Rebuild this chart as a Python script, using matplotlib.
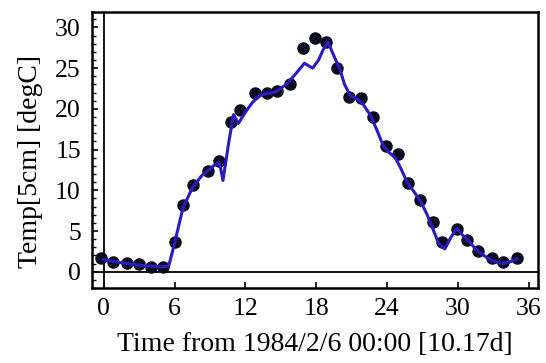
import numpy as np
import matplotlib
matplotlib.use("Agg")
import matplotlib.pyplot as plt
from matplotlib.ticker import MultipleLocator

# soil temperature at 5 cm, measured points
t_obs = [-0.2, 0.8, 2.0, 3.0, 4.0, 5.0, 6.0, 6.7, 7.6, 8.8, 9.8, 10.8, 11.5,
         12.8, 13.8, 14.7, 15.8, 16.9, 17.9, 18.8, 19.8, 20.8, 21.8, 22.8,
         23.9, 24.9, 25.8, 26.8, 27.9, 28.7, 29.9, 30.8, 31.7, 32.9, 33.8, 35.0]
T_obs = [1.7, 1.2, 1.1, 0.9, 0.6, 0.6, 3.7, 8.2, 10.6, 12.4, 13.6, 18.4, 19.9,
         22.0, 21.9, 22.2, 23.1, 27.5, 28.7, 28.2, 25.0, 21.5, 21.3, 19.0,
         15.4, 14.4, 10.9, 8.8, 6.1, 3.7, 5.2, 3.9, 2.5, 1.7, 1.2, 1.7]

# model run
t_mod = [0.0, 1.0, 2.0, 3.0, 4.0, 5.0, 5.5, 6.0, 6.7, 7.5, 8.3, 8.8, 9.3, 9.8,
         10.1, 10.6, 11.0, 11.4, 12.0, 12.6, 13.2, 13.8, 14.4, 15.0, 15.6,
         16.2, 17.0, 17.7, 18.2, 18.6, 19.0, 19.5, 20.0, 20.4, 20.9, 21.5,
         22.0, 22.6, 23.2, 23.7, 24.2, 24.7, 25.2, 25.7, 26.3, 26.9, 27.4,
         27.9, 28.4, 28.9, 29.4, 29.9, 30.4, 30.9, 31.5, 32.0, 32.6, 33.2,
         33.8, 34.4, 35.0]
T_mod = [1.5, 1.2, 1.0, 0.8, 0.7, 0.6, 0.7, 3.5, 7.8, 10.3, 11.8, 12.4, 13.0,
         13.4, 11.2, 16.0, 19.3, 18.2, 19.6, 20.8, 21.6, 21.9, 22.0, 22.5,
         23.2, 24.2, 25.6, 25.0, 26.0, 27.3, 28.2, 26.5, 24.9, 23.0, 21.6,
         21.2, 20.5, 19.2, 17.2, 15.4, 14.6, 14.0, 12.6, 11.0, 9.8, 8.5, 7.0,
         5.2, 3.4, 2.8, 4.2, 5.3, 4.5, 3.8, 2.8, 2.2, 1.6, 1.2, 1.0, 1.2, 1.6]

plt.rcParams['font.family'] = ['Liberation Serif', 'DejaVu Serif']

fig = plt.figure(figsize=(5.46, 3.63), dpi=100)
ax = fig.add_axes([0.1685, 0.2066, 0.817, 0.7604])

ax.axhline(0, color='black', lw=1.3, zorder=1)
ax.axvline(0, color='black', lw=1.3, zorder=1)

ax.plot(t_obs, T_obs, 'o', color='#0c0c20', ms=8, zorder=2)
ax.plot(t_mod, T_mod, '-', color='#2a1cc0', lw=2.2, zorder=3)

ax.set_xlim(-1.0, 36.8)
ax.set_ylim(-2.0, 31.9)
ax.xaxis.set_major_locator(MultipleLocator(6))
ax.xaxis.set_minor_locator(plt.NullLocator())
ax.yaxis.set_major_locator(MultipleLocator(5))
ax.yaxis.set_minor_locator(MultipleLocator(1))
ax.tick_params(direction='in', length=4, width=1.2, labelsize=18.5,
               top=False, right=False)
ax.tick_params(axis='x', pad=7)
ax.tick_params(axis='y', pad=8)
ax.tick_params(which='minor', direction='in', length=3, width=1.0,
               top=False, right=False)
for s in ax.spines.values():
    s.set_linewidth(1.8)

ax.set_xlabel('Time from 1984/2/6 00:00 [10.17d]', fontsize=20, labelpad=9)
ax.set_ylabel('Temp[5cm] [degC]', fontsize=20)
ax.yaxis.set_label_coords(-0.11, 0.46)

fig.savefig('out.png', dpi=100)
